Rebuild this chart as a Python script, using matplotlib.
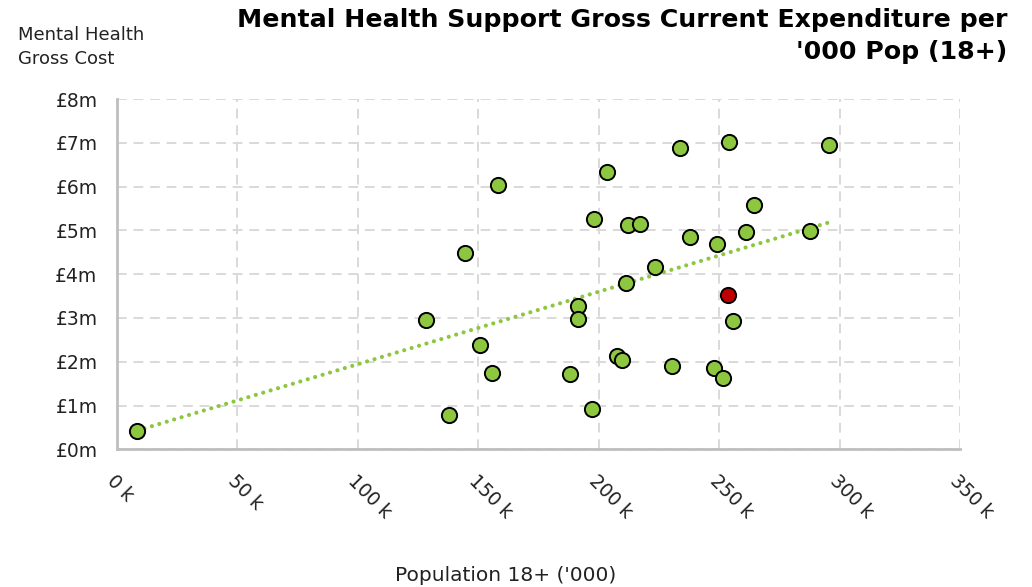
import matplotlib
matplotlib.use('Agg')
import matplotlib.pyplot as plt
from matplotlib.ticker import FuncFormatter
import numpy as np

# population 18+ ('000) and gross cost (£m)
pop = [8.3, 128.3, 137.9, 144.5, 150.8, 155.6, 158.2, 188.2, 191.5, 191.5,
       197.4, 198.1, 203.6, 207.4, 209.6, 211.3, 212.3, 217.2, 223.5, 230.3,
       233.8, 237.7, 247.7, 249.2, 251.5, 254.2, 255.8, 261.2, 264.6, 287.9,
       295.8]
cost = [0.42, 2.96, 0.78, 4.48, 2.39, 1.74, 6.03, 1.71, 3.28, 2.98,
        0.93, 5.27, 6.33, 2.14, 2.04, 3.80, 5.12, 5.15, 4.17, 1.90,
        6.89, 4.85, 1.85, 4.70, 1.63, 7.01, 2.92, 4.96, 5.57, 4.99,
        6.95]
# highlighted authority
hl_pop = [253.6]
hl_cost = [3.52]

x_ticks = [0, 50, 100, 150, 200, 250, 300, 350]
y_ticks = [0, 1, 2, 3, 4, 5, 6, 7, 8]

green = '#8dc63f'
red = '#c00000'
grey = '#bfbfbf'

plt.rcParams['font.family'] = 'DejaVu Sans'

fig = plt.figure(figsize=(10.32, 5.87), dpi=100)
ax = fig.add_axes([0.1134, 0.2346, 0.8168, 0.5967])

# trend line over all points
all_x = np.array(pop + hl_pop)
all_y = np.array(cost + hl_cost)
m, c = np.polyfit(all_x, all_y, 1)
tx = np.array([all_x.min(), all_x.max()])
ax.plot(tx, m * tx + c, color=green, lw=3.0, ls=(0, (0.01, 1.85)),
        dash_capstyle='round', zorder=2)

ax.scatter(pop, cost, s=120, color=green, edgecolor='black', linewidth=1.4, zorder=3)
ax.scatter(hl_pop, hl_cost, s=120, color=red, edgecolor='black', linewidth=1.4, zorder=4)

ax.set_xlim(0, 350)
ax.set_ylim(0, 8)
ax.set_xticks(x_ticks)
ax.set_yticks(y_ticks)
ax.xaxis.set_major_formatter(FuncFormatter(lambda v, p: '%d k' % v))
ax.yaxis.set_major_formatter(FuncFormatter(lambda v, p: '£%dm' % v))

ax.grid(True, color='#d9d9d9', ls=(0, (5, 3.5)), lw=1.4)
ax.set_axisbelow(True)
for s in ['top', 'right']:
    ax.spines[s].set_visible(False)
for s in ['left', 'bottom']:
    ax.spines[s].set_color(grey)
    ax.spines[s].set_linewidth(2)
ax.tick_params(length=0, labelsize=13.5, labelcolor='#222222')
ax.tick_params(axis='y', pad=14)
ax.tick_params(axis='x', pad=16)
for lab in ax.get_xticklabels():
    lab.set_rotation(-45)
    lab.set_ha('left')
    lab.set_va('top')
    lab.set_rotation_mode('anchor')

fig.text(0.49, 0.004, "Population 18+ ('000)", ha='center', va='bottom',
         fontsize=14.5, color='#222222')
fig.text(0.017, 0.955, 'Mental Health\nGross Cost', ha='left', va='top',
         fontsize=13, linespacing=1.4, color='#222222')
fig.text(0.976, 0.986, "Mental Health Support Gross Current Expenditure per\n'000 Pop (18+)",
         ha='right', va='top', fontsize=18.2, fontweight='bold', linespacing=1.4)

fig.savefig('out.png', dpi=100)
